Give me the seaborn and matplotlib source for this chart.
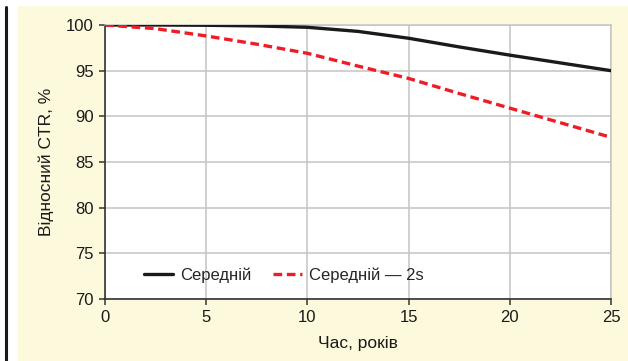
import matplotlib
matplotlib.use("Agg")
import matplotlib.pyplot as plt
import seaborn as sns
import pandas as pd
from matplotlib.patches import Rectangle
from matplotlib.lines import Line2D

# Relative CTR over time
years = [0, 2.5, 5, 7.5, 10, 12.5, 15, 17.5, 20, 22.5, 25]
ctr_mean = [100, 100, 99.97, 99.9, 99.75, 99.3, 98.55, 97.6, 96.7, 95.85, 95.0]
ctr_mean_2s = [100, 99.6, 98.8, 97.9, 96.9, 95.5, 94.15, 92.5, 90.9, 89.3, 87.7]
series_names = ["Середній", "Середній — 2s"]
x_ticks = [0, 5, 10, 15, 20, 25]
y_ticks = [70, 75, 80, 85, 90, 95, 100]

sns.set_theme(style="white")
plt.rcParams["font.family"] = ["Liberation Sans", "DejaVu Sans"]

df = pd.DataFrame({
    "t": years * 2,
    "ctr": ctr_mean + ctr_mean_2s,
    "series": [series_names[0]] * len(years) + [series_names[1]] * len(years),
})

fig = plt.figure(figsize=(6.28, 3.61), dpi=100, facecolor="white")
# cream panel and black side rule
fig.patches.append(Rectangle((18 / 628, 0), 1 - 18 / 628, 1 - 6 / 361,
                             transform=fig.transFigure, facecolor="#fdf9dc",
                             edgecolor="none", zorder=-10))
fig.lines.append(Line2D([6 / 628, 6 / 628], [0, 1 - 7 / 361],
                        transform=fig.transFigure, color="#1a1a1a", lw=2.2))

ax = fig.add_axes([105 / 628, 1 - 299 / 361, (611 - 105) / 628, (299 - 25) / 361])
ax.set_facecolor("white")

sns.lineplot(data=df, x="t", y="ctr", hue="series", style="series",
             palette={series_names[0]: "#1a1a1a", series_names[1]: "#ee1c25"},
             dashes={series_names[0]: "", series_names[1]: (2.6, 1.4)},
             linewidth=2.4, ax=ax, legend=True, zorder=5)

ax.set_xlim(0, 25)
ax.set_ylim(70, 100)
ax.set_xticks(x_ticks)
ax.set_yticks(y_ticks)
ax.grid(True, color="#c4c4c4", linewidth=1.1)
ax.set_axisbelow(True)

for side in ("top", "right"):
    ax.spines[side].set_color("#c4c4c4")
    ax.spines[side].set_linewidth(1.1)
for side in ("left", "bottom"):
    ax.spines[side].set_color("#333333")
    ax.spines[side].set_linewidth(1.2)

ax.tick_params(axis="both", which="major", direction="out", length=4, width=1.1,
               color="#333333", labelsize=12, labelcolor="#1a1a1a", pad=4,
               bottom=True, left=True)

ax.set_xlabel("Час, років", fontsize=12.5, color="#1a1a1a")
ax.set_ylabel("Відносний CTR, %", fontsize=12.5, color="#1a1a1a")
ax.xaxis.set_label_coords(0.5, -0.135)
ax.yaxis.set_label_coords(-0.1, 0.5)

handles, labels = ax.get_legend_handles_labels()
ax.legend(handles, labels, loc="lower left", bbox_to_anchor=(0.048, 0.005),
          ncol=2, frameon=False, fontsize=12, handlelength=1.75,
          handletextpad=0.4, columnspacing=1.3)

fig.savefig("out.png", dpi=100, facecolor=fig.get_facecolor())
